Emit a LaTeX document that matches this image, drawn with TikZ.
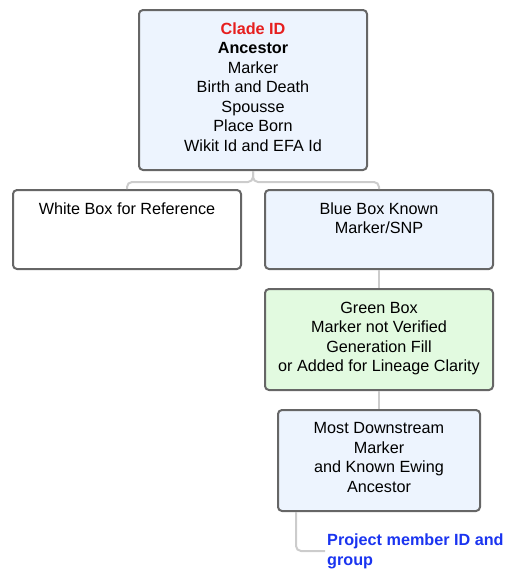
\documentclass[tikz,border=0pt]{standalone}
\usepackage{fontspec}
\setmainfont{Liberation Sans}
\usetikzlibrary{positioning}
\definecolor{boxline}{HTML}{666666}
\definecolor{connline}{HTML}{CCCCCC}
\definecolor{bluefill}{HTML}{EDF4FE}
\definecolor{greenfill}{HTML}{E2FAE0}
\definecolor{cladered}{HTML}{E61E1E}
\definecolor{memberblue}{HTML}{1A34F0}
\begin{document}
\begin{tikzpicture}[x=1pt,y=-1pt]
\tikzstyle{every node}=[font=\fontsize{16.2}{19.5}\selectfont]
\tikzstyle{box}=[draw=boxline,line width=2pt,rounded corners=4pt,minimum width=228pt,anchor=north west,inner sep=0pt]
\tikzstyle{txt}=[align=center,anchor=north,inner sep=0pt,yshift=-13.5pt]
\tikzstyle{conn}=[draw=connline,line width=2pt,rounded corners=5pt]
\useasboundingbox (0,0) rectangle (516,574);

\node[box,fill=bluefill,minimum height=160pt] (clade) at (138,9) {};
\node[txt] (cladetxt) at (clade.north) {\textcolor{cladered}{\bfseries Clade ID}\\\textbf{Ancestor}\\Marker\\Birth and Death\\Spousse\\Place Born\\Wikit Id and EFA Id};

\node[box,fill=white,minimum height=79pt] (white) at (12,189) {};
\node[txt] (whitetxt) at (white.north) {White Box for Reference};

\node[box,fill=bluefill,minimum height=79pt] (known) at (264,189) {};
\node[txt] (knowntxt) at (known.north) {Blue Box Known\\Marker/SNP};

\node[box,fill=greenfill,minimum height=101pt] (green) at (264,288) {};
\node[txt] (greentxt) at (green.north) {Green Box\\Marker not Verified\\Generation Fill\\or Added for Lineage Clarity};

\node[box,fill=bluefill,minimum width=202pt,minimum height=101pt] (down) at (277,409) {};
\node[txt] (downtxt) at (down.north) {Most Downstream\\Marker\\and Known Ewing\\Ancestor};

\node[anchor=west,align=left,inner sep=0pt,text=memberblue,font=\fontsize{16.2}{20}\selectfont\bfseries] (member) at (327,551) {Project member ID and\\group};

% connectors
\draw[conn] (clade.south) -- ++(0,11) -| (white.north);
\draw[conn] (clade.south) -- ++(0,11) -| (known.north);
\draw[conn] (known.south) -- (green.north);
\draw[conn] (green.south) -- (down.north);
\draw[conn] ([xshift=19pt]down.south west) |- ([xshift=-2pt]member.west);

\end{tikzpicture}
\end{document}
